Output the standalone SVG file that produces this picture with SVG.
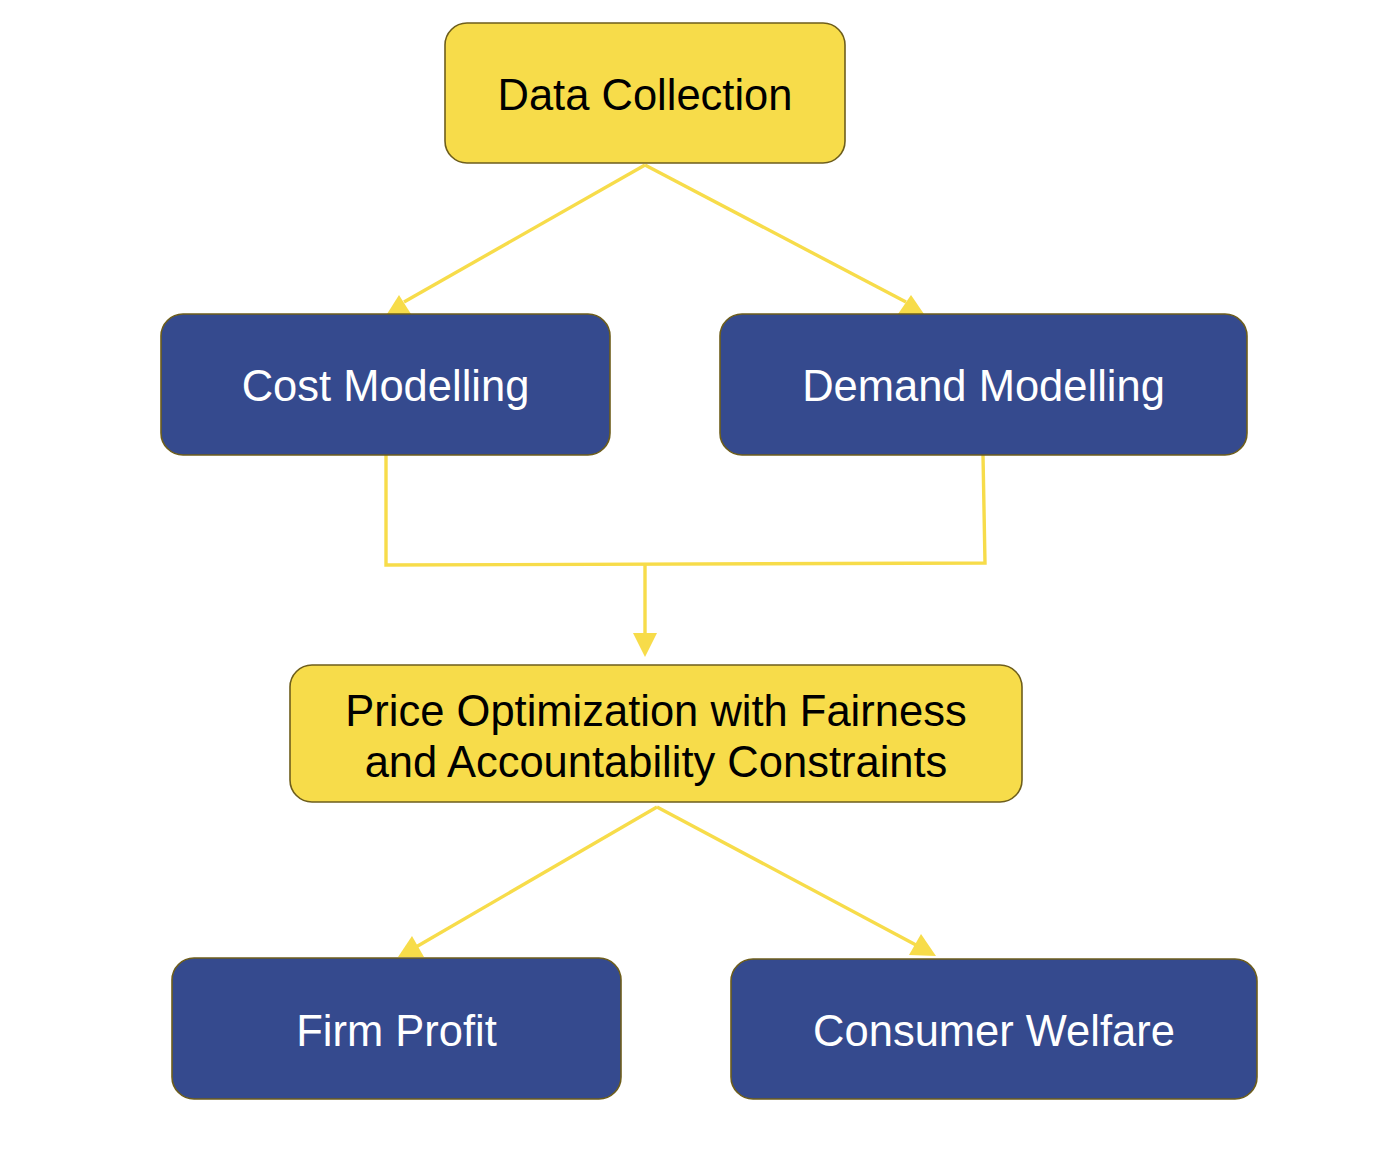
<svg xmlns="http://www.w3.org/2000/svg" width="1394" height="1156" viewBox="0 0 1394 1156">
<style>
.y{fill:#F7DC4A;stroke:#6E5E1C;stroke-width:1.6}
.b{fill:#354A8E;stroke:#6E5E1C;stroke-width:1.6}
.t{font-family:"Liberation Sans",Arial,sans-serif;font-size:43.5px;text-anchor:middle}
.tb{fill:#000}
.tw{fill:#fff}
.c{fill:none;stroke:#F7DC4A;stroke-width:3.4}
.h{fill:#F7DC4A;stroke:none}
</style>
<rect width="1394" height="1156" fill="#fff"/>
<g id="connectors">
<path class="c" d="M645,165 L404,302"/>
<polygon class="h" points="399,295 387,314 411,314"/>
<path class="c" d="M645,165 L906,302"/>
<polygon class="h" points="911,295 898,314 924,314"/>
<path class="c" d="M386,455 L386,565 L985,563 L983,455"/>
<path class="c" d="M645,565 L645,636"/>
<polygon class="h" points="633,633 657,633 645,657"/>
<path class="c" d="M657,807 L416,947"/>
<polygon class="h" points="412,936 398,957 424,957"/>
<path class="c" d="M657,807 L916,945"/>
<polygon class="h" points="921,934 909,955 936,956"/>
</g>
<g id="data-collection">
<rect class="y" x="445" y="23" width="400" height="140" rx="22"/>
<text class="t tb" x="645" y="109.5">Data Collection</text>
</g>
<g id="cost-modelling">
<rect class="b" x="161" y="314" width="449" height="141" rx="22"/>
<text class="t tw" x="385.5" y="400.5">Cost Modelling</text>
</g>
<g id="demand-modelling">
<rect class="b" x="720" y="314" width="527" height="141" rx="22"/>
<text class="t tw" x="983.5" y="400.5">Demand Modelling</text>
</g>
<g id="price-optimization">
<rect class="y" x="290" y="665" width="732" height="137" rx="22"/>
<text class="t tb" x="656" y="725.5">Price Optimization with Fairness</text>
<text class="t tb" x="656" y="776.5">and Accountability Constraints</text>
</g>
<g id="firm-profit">
<rect class="b" x="172" y="958" width="449" height="141" rx="22"/>
<text class="t tw" x="396.5" y="1045.5">Firm Profit</text>
</g>
<g id="consumer-welfare">
<rect class="b" x="731" y="959" width="526" height="140" rx="22"/>
<text class="t tw" x="994" y="1045.5">Consumer Welfare</text>
</g>
</svg>
